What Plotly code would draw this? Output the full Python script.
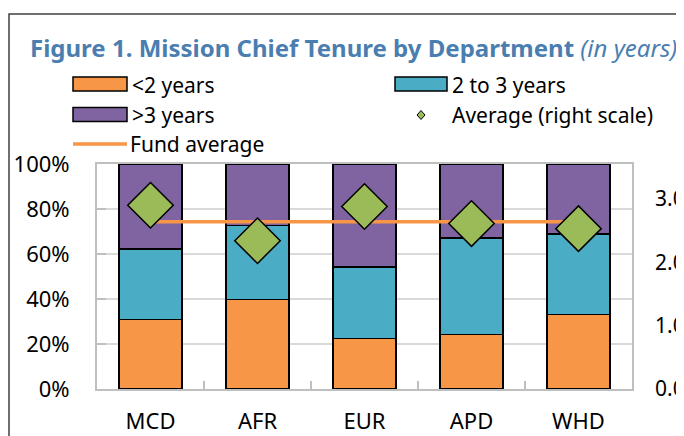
import plotly.graph_objects as go

departments = ["MCD", "AFR", "EUR", "APD", "WHD"]
share_lt2 = [31.0, 39.7, 22.4, 24.3, 33.2]
share_2to3 = [31.2, 33.0, 31.8, 42.9, 35.7]
share_gt3 = [37.8, 27.3, 45.8, 32.8, 31.1]
avg_tenure = [2.90, 2.34, 2.88, 2.61, 2.53]
fund_average = 2.64
left_ticks = [0, 20, 40, 60, 80, 100]
left_labels = ["0%", "20%", "40%", "60%", "80%", "100%"]
right_ticks = [0, 1, 2, 3]
right_labels = ["0.0", "1.0", "2.0", "3.0"]

# page has an 8px body margin: figure is drawn at (8, 8) in the window
OFF = 8
W, H = 684 - OFF, 436 - OFF
L, R, T, B = 97 - OFF, 52, 164 - OFF, 47
PW, PH = W - L - R, H - T - B

# helpers take window (screen) pixel coordinates
def xp(px):
    return (px - OFF - L) / PW

def yp(py):
    return (H - B - (py - OFF)) / PH

ORANGE = "#f79646"
BLUE = "#4bacc6"
PURPLE = "#8064a2"
GREEN = "#9bbb59"
GRID = "#d9d9d9"
AXIS = "#bfbfbf"
TITLE = "#4a7eb0"
FONT = "Noto Sans"

fig = go.Figure()
for vals, col, name in [(share_lt2, ORANGE, "<2 years"),
                        (share_2to3, BLUE, "2 to 3 years"),
                        (share_gt3, PURPLE, ">3 years")]:
    fig.add_trace(go.Bar(x=departments, y=vals, name=name, marker_color=col,
                         marker_line=dict(color="black", width=1.5), width=0.59))

fig.add_trace(go.Scatter(x=departments, y=[fund_average] * len(departments), yaxis="y2",
                         mode="lines", line=dict(color=ORANGE, width=3.5), name="Fund average"))
fig.add_trace(go.Scatter(x=departments, y=avg_tenure, yaxis="y2", mode="markers",
                         marker=dict(symbol="diamond", size=35, color=GREEN,
                                     line=dict(color="black", width=1.5)),
                         name="Average (right scale)"))

shapes = []
annotations = []
# outer frame
shapes.append(dict(type="rect", xref="paper", yref="paper", x0=xp(9), x1=xp(720),
                   y0=yp(14), y1=yp(470), line=dict(color="#404040", width=1.5),
                   fillcolor="rgba(0,0,0,0)", layer="below"))

# title
annotations.append(dict(xref="paper", yref="paper", x=xp(28), y=yp(47), xanchor="left",
                        yanchor="middle", showarrow=False,
                        text="<b>Figure 1. Mission Chief Tenure by Department</b> <i>(in years)</i>",
                        font=dict(family=FONT, size=24, color=TITLE)))

def swatch(x0, x1, yc, col):
    shapes.append(dict(type="rect", xref="paper", yref="paper", x0=xp(x0), x1=xp(x1),
                       y0=yp(yc + 7), y1=yp(yc - 7), fillcolor=col,
                       line=dict(color="black", width=1.5)))

def label(x, yc, txt):
    annotations.append(dict(xref="paper", yref="paper", x=xp(x), y=yp(yc), xanchor="left",
                            yanchor="middle", showarrow=False, text=txt,
                            font=dict(family=FONT, size=21, color="black")))

swatch(73, 127, 84, ORANGE)
label(130, 85, "<2 years")
swatch(395, 447, 84, BLUE)
label(450, 85, "2 to 3 years")
swatch(73, 127, 114.5, PURPLE)
label(130, 115, ">3 years")
dx, dy, cx, cy = 4, 4.5, 421, 115
shapes.append(dict(type="path", xref="paper", yref="paper",
                   path=f"M {xp(cx-dx)},{yp(cy)} L {xp(cx)},{yp(cy-dy)} L {xp(cx+dx)},{yp(cy)} L {xp(cx)},{yp(cy+dy)} Z",
                   fillcolor=GREEN, line=dict(color="black", width=1)))
label(450, 115, "Average (right scale)")
shapes.append(dict(type="line", xref="paper", yref="paper", x0=xp(73), x1=xp(127),
                   y0=yp(144), y1=yp(144), line=dict(color=ORANGE, width=3.5)))
label(128, 144, "Fund average")

fig.update_layout(
    width=W, height=H, barmode="stack", showlegend=False,
    margin=dict(l=L, r=R, t=T, b=B, autoexpand=False),
    paper_bgcolor="white", plot_bgcolor="white",
    font=dict(family=FONT, size=21, color="black"),
    bargap=0.41,
    shapes=shapes, annotations=annotations,
    xaxis=dict(showline=True, linecolor=AXIS, linewidth=2, mirror=True,
               ticks="inside", tickson="boundaries", ticklen=8, tickcolor=AXIS, tickwidth=2,
               showgrid=False, tickfont=dict(size=22), ticklabelstandoff=12),
    yaxis=dict(range=[0, 100], tickvals=left_ticks, ticktext=left_labels,
               showline=True, linecolor=AXIS, linewidth=2, mirror=True,
               ticks="inside", ticklen=9, tickcolor=AXIS, tickwidth=2,
               showgrid=True, gridcolor=GRID, gridwidth=1.5, zeroline=False,
               tickfont=dict(size=22), ticklabelstandoff=21),
    yaxis2=dict(range=[0, 3.55], tickvals=right_ticks, ticktext=right_labels,
                overlaying="y", side="right", showgrid=False, showline=False,
                zeroline=False, tickfont=dict(size=21), ticklabelstandoff=22,
                automargin=False),
)

fig.write_html("out.html")
